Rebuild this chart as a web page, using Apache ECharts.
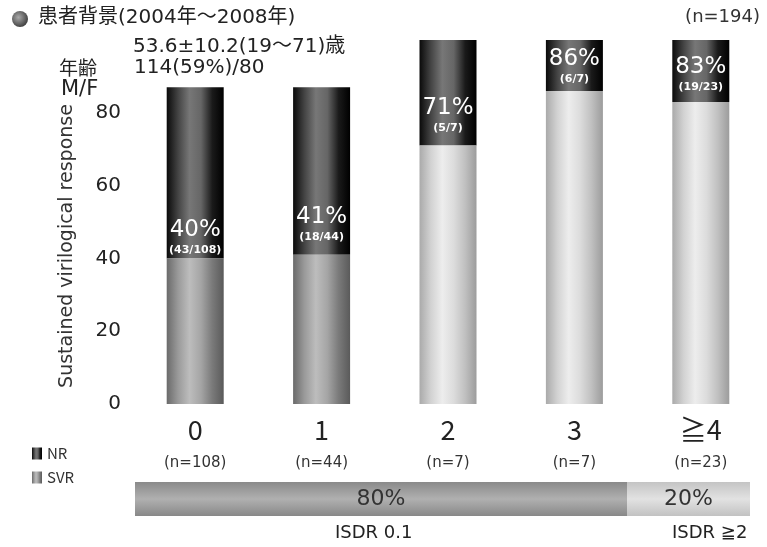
<!DOCTYPE html>
<html>
<head>
<meta charset="utf-8">
<script src="https://cdn.jsdelivr.net/npm/echarts@6/dist/echarts.min.js"></script>
<style>
  html, body { margin: 0; padding: 0; background: #fff; }
  #chart { width: 767px; height: 547px; }
</style>
</head>
<body>
<div id="chart"></div>
<script>
// ISDR mutation count groups
const categories = ['0', '1', '2', '3', '≧4'];
const groupN = [108, 44, 7, 7, 23];
// SVR (%) and NR (%) stacked per group
const svrValues = [40, 41, 71, 86, 83];
const nrValues = [47, 46, 29, 14, 17];
const svrCounts = [43, 18, 5, 6, 19];
// share of patients by ISDR group (%)
const isdrNames = ['ISDR 0.1', 'ISDR ≧2'];
const isdrShare = [80, 20];
const yTicks = [0, 20, 40, 60, 80];
const yName = 'Sustained virilogical response';

const FONT = '"Noto Sans CJK JP", "Noto Sans", sans-serif';
const WIDE = '"DejaVu Sans", "Noto Sans CJK JP", sans-serif';

// label offsets above the SVR/NR boundary, per group
const labelGap = [1, 10, 10, 4, 7];

function hGrad(stops) {
  return new echarts.graphic.LinearGradient(0, 0, 1, 0,
    stops.map((c, i) => ({ offset: i / (stops.length - 1), color: c })));
}
const nrColor = hGrad(['#0a0a0a', '#444', '#777', '#666', '#1a1a1a', '#000']);
const svrDark = hGrad(['#6a6a6a', '#9a9a9a', '#bdbdbd', '#a5a5a5', '#7a7a7a', '#5a5a5a']);
const svrLight = hGrad(['#aaa', '#d2d2d2', '#ededed', '#dcdcdc', '#c0c0c0', '#9c9c9c']);

const chart = echarts.init(document.getElementById('chart'));

const option = {
  animation: false,
  textStyle: { fontFamily: WIDE },
  legend: {
    data: ['NR', 'SVR'],
    orient: 'vertical',
    left: 27,
    top: 441,
    icon: 'rect',
    itemWidth: 10,
    itemHeight: 12,
    itemGap: 9,
    textStyle: { fontSize: 15, color: '#333', fontFamily: FONT }
  },
  grid: [
    { left: 132, top: 40, width: 632, height: 364 },
    { left: 135, top: 482, width: 615, height: 34 }
  ],
  xAxis: [
    {
      type: 'category',
      gridIndex: 0,
      data: categories,
      axisLine: { show: false },
      axisTick: { show: false },
      axisLabel: {
        margin: 12,
        formatter: (v, i) => '{c|' + v + '}\n{n|(n=' + groupN[i] + ')}',
        rich: {
          c: { fontSize: 27, lineHeight: 28, color: '#222', fontFamily: FONT },
          n: { fontSize: 15, lineHeight: 38, color: '#333', fontFamily: WIDE }
        }
      }
    },
    { type: 'value', gridIndex: 1, min: 0, max: 100, show: false }
  ],
  yAxis: [
    {
      type: 'value',
      gridIndex: 0,
      min: 0,
      max: 100,
      interval: 20,
      axisLine: { show: false },
      axisTick: { show: false },
      splitLine: { show: false },
      axisLabel: {
        margin: 11,
        fontSize: 20,
        color: '#222',
        fontFamily: WIDE,
        padding: [3, 0, 0, 0],
        formatter: v => (yTicks.indexOf(v) >= 0 ? String(v) : '')
      }
    },
    { type: 'category', gridIndex: 1, data: ['ISDR'], show: false }
  ],
  series: [
    {
      name: 'SVR',
      type: 'bar',
      stack: 'resp',
      xAxisIndex: 0,
      yAxisIndex: 0,
      barWidth: 57,
      itemStyle: { color: svrDark },
      data: svrValues.map((v, i) => ({
        value: v,
        itemStyle: { color: i < 2 ? svrDark : svrLight },
        label: { distance: labelGap[i] }
      })),
      label: {
        show: true,
        position: 'top',
        formatter: p => '{p|' + p.value + '%}\n{f|(' + svrCounts[p.dataIndex] + '/' + groupN[p.dataIndex] + ')}',
        rich: {
          p: { fontSize: 23, lineHeight: 25, color: '#fff', fontFamily: WIDE },
          f: { fontSize: 11, lineHeight: 15, color: '#fff', fontWeight: 'bold', fontFamily: WIDE }
        }
      },
      z: 3
    },
    {
      name: 'NR',
      type: 'bar',
      stack: 'resp',
      xAxisIndex: 0,
      yAxisIndex: 0,
      barWidth: 57,
      data: nrValues,
      itemStyle: { color: nrColor },
      z: 2
    },
    {
      name: isdrNames[0],
      type: 'bar',
      stack: 'isdr',
      xAxisIndex: 1,
      yAxisIndex: 1,
      barWidth: '100%',
      data: [isdrShare[0]],
      itemStyle: {
        color: new echarts.graphic.LinearGradient(0, 0, 0, 1, [
          { offset: 0, color: '#8a8a8a' },
          { offset: 0.5, color: '#b0b0b0' },
          { offset: 1, color: '#888' }
        ])
      },
      label: { show: true, position: 'inside', formatter: '{c}%', fontSize: 22, color: '#333', fontFamily: WIDE }
    },
    {
      name: isdrNames[1],
      type: 'bar',
      stack: 'isdr',
      xAxisIndex: 1,
      yAxisIndex: 1,
      barWidth: '100%',
      data: [isdrShare[1]],
      itemStyle: {
        color: new echarts.graphic.LinearGradient(0, 0, 0, 1, [
          { offset: 0, color: '#c4c4c4' },
          { offset: 0.5, color: '#e2e2e2' },
          { offset: 1, color: '#c2c2c2' }
        ])
      },
      label: { show: true, position: 'inside', formatter: '{c}%', fontSize: 22, color: '#333', fontFamily: WIDE }
    }
  ],
  graphic: [
    {
      type: 'circle',
      shape: { cx: 20, cy: 19, r: 8 },
      style: {
        fill: new echarts.graphic.RadialGradient(0.4, 0.4, 0.7, [
          { offset: 0, color: '#aaa' },
          { offset: 1, color: '#333' }
        ])
      }
    },
    { type: 'text', left: 38, top: 8, style: { text: '患者背景(2004年～2008年)', fontSize: 20, fill: '#222', fontFamily: WIDE } },
    { type: 'text', right: 7, top: 8, style: { text: '(n=194)', fontSize: 18, fill: '#333', fontFamily: WIDE } },
    { type: 'text', left: 133, top: 37, style: { text: '53.6±10.2(19～71)歳', fontSize: 20, fill: '#222', fontFamily: WIDE } },
    { type: 'text', left: 59, top: 58, style: { text: '年齢', fontSize: 19, fill: '#222', fontFamily: FONT } },
    { type: 'text', left: 134, top: 58, style: { text: '114(59%)/80', fontSize: 20, fill: '#222', fontFamily: WIDE } },
    { type: 'text', left: 61, top: 79, style: { text: 'M/F', fontSize: 21, fill: '#222', fontFamily: WIDE } },
    {
      type: 'text',
      x: 67,
      y: 246,
      rotation: Math.PI / 2,
      style: { text: yName, fontSize: 19, fill: '#333', fontFamily: WIDE, align: 'center', verticalAlign: 'middle' }
    },
    { type: 'text', left: 335, top: 524, style: { text: isdrNames[0], fontSize: 18, fill: '#222', fontFamily: WIDE } },
    { type: 'text', left: 672, top: 524, style: { text: isdrNames[1], fontSize: 18, fill: '#222', fontFamily: WIDE } }
  ]
};

chart.setOption(option);
</script>
</body>
</html>
